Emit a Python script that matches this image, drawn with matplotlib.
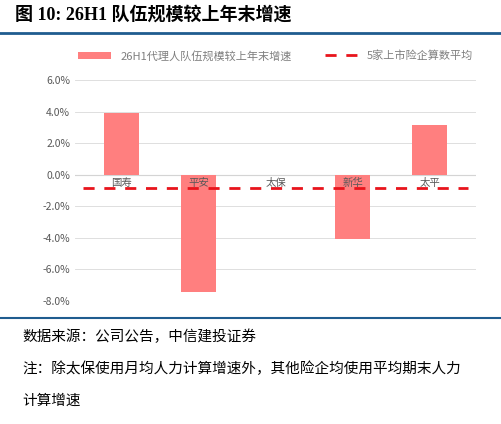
import matplotlib
matplotlib.use("Agg")
import matplotlib.pyplot as plt
import numpy as np

plt.rcParams['font.family'] = ['Noto Sans CJK SC', 'DejaVu Sans']

companies = ["国寿", "平安", "太保", "新华", "太平"]
growth = [3.9, -7.4, 0.0, -4.05, 3.15]
avg_growth = -0.85
bar_label = "26H1代理人队伍规模较上年末增速"
avg_label = "5家上市险企算数平均"

fig = plt.figure(figsize=(5.01, 4.24), dpi=100)
fig.text(0.03, 0.965, "图 10: 26H1 队伍规模较上年末增速", fontsize=13,
         fontweight='bold', va='center', family=['Liberation Serif', 'Noto Sans CJK SC'])
fig.add_artist(plt.Line2D([0, 1], [0.922, 0.922], color='#1f5c8f', lw=2))
fig.add_artist(plt.Line2D([0, 1], [0.25, 0.25], color='#1f5c8f', lw=1.5))

ax = fig.add_axes([0.15, 0.29, 0.80, 0.521])
x = np.arange(len(companies))
bars = ax.bar(x, growth, width=0.45, color='#ff7f7f', label=bar_label, zorder=2)
line, = ax.plot([-0.5, len(companies) - 0.5], [avg_growth, avg_growth], color='#e8141c',
                lw=2, ls=(0, (4, 3.5)), label=avg_label, zorder=3)
ax.set_xlim(-0.6, len(companies) - 0.4)
ax.set_ylim(-8, 6)
ax.set_yticks(np.arange(-8, 7, 2))
ax.set_yticklabels([f"{v:.1f}%" for v in np.arange(-8, 7, 2)], fontsize=7.5, color='#595959')
ax.set_xticks([])
for xi, name in zip(x, companies):
    ax.text(xi, -0.2, name, ha='center', va='top', fontsize=7.5, color='#595959', zorder=4)
ax.grid(axis='y', color='#d9d9d9', lw=0.6, zorder=0)
ax.axhline(0, color='#bfbfbf', lw=0.8, zorder=1)
for s in ax.spines.values():
    s.set_visible(False)
ax.tick_params(axis='y', length=0)
ax.legend([bars, line], [bar_label, avg_label], loc='lower center',
          bbox_to_anchor=(0.5, 1.04), ncol=2, frameon=False,
          fontsize=8, labelcolor='#7f7f7f', handlelength=3, columnspacing=3)

notes = ["数据来源：公司公告，中信建投证券",
         "注：除太保使用月均人力计算增速外，其他险企均使用平均期末人力",
         "计算增速"]
for i, t in enumerate(notes):
    fig.text(0.045, 0.205 - i * 0.075, t, fontsize=10.5, va='center')

fig.savefig("out.png", dpi=100)
